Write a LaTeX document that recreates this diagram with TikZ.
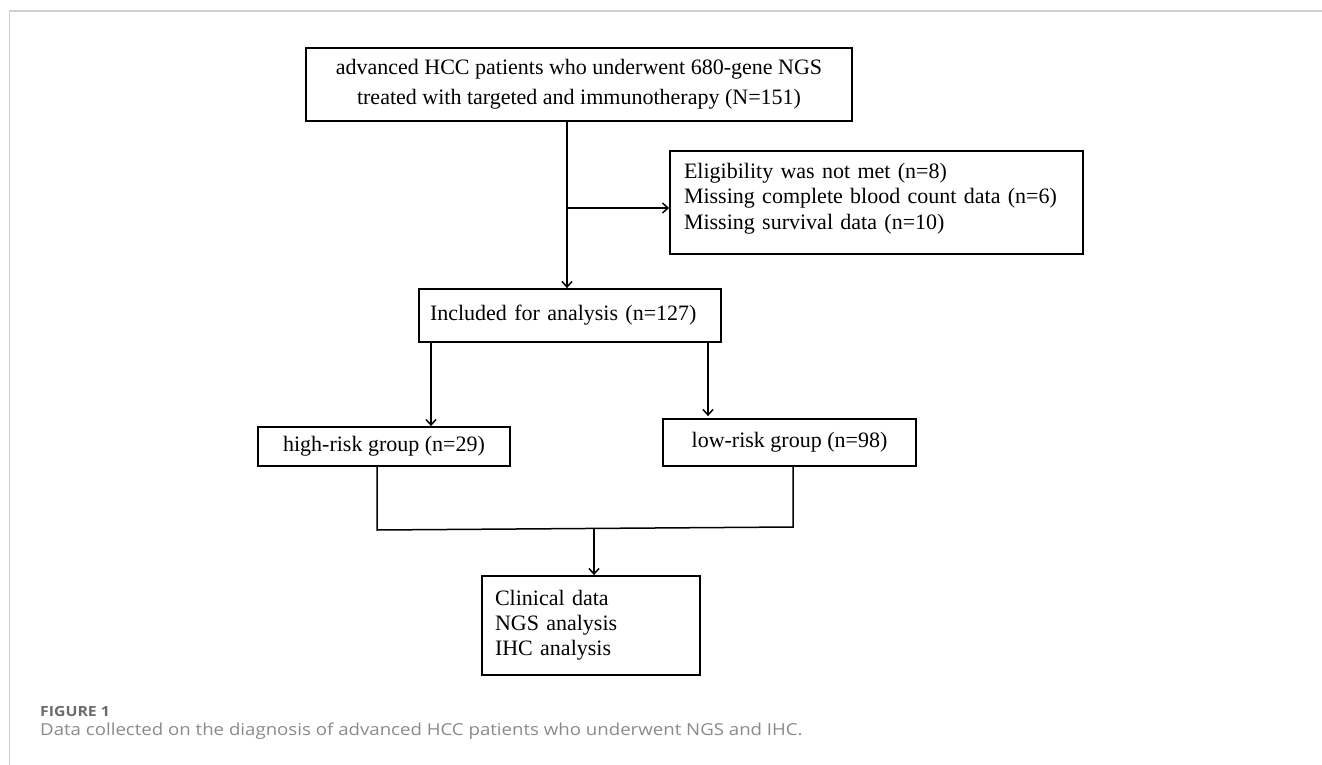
\documentclass[tikz,border=0pt]{standalone}
\usepackage{fontspec}
\setmainfont{Liberation Serif}
\newfontfamily\capfont[FakeStretch=1.13]{Open Sans}
\usetikzlibrary{arrows.meta,calc}
\definecolor{framegray}{HTML}{CFCFCF}
\definecolor{figgray}{HTML}{6A6A6A}
\definecolor{capgray}{HTML}{8A8A8A}
\tikzset{
  box/.style={draw=black, line width=1.8pt, inner sep=0pt, font=\fontsize{22}{25.5}\selectfont},
  conn/.style={line width=1.5pt},
  arr/.style={conn, -{Straight Barb[length=5.5pt,width=10pt,line width=1.5pt]}},
}
\begin{document}
\begin{tikzpicture}[x=1pt,y=-1pt]
\useasboundingbox (0,0) rectangle (1322,765);
% frame
\draw[framegray, line width=1.2pt] (1322,11) -- (9.5,11) -- (9.5,765);

% boxes
\node[box, minimum width=546pt, minimum height=73pt, align=center,
      font=\fontsize{22}{30}\selectfont] (top) at (579,84.5)
  {advanced HCC patients who underwent 680-gene NGS\\treated with targeted and immunotherapy (N=151)};
\node[box, minimum width=413pt, minimum height=103pt, text width=385pt, inner xsep=14pt, align=left] (excl) at (876.5,202.5)
  {Eligibility was not met (n=8)\\Missing complete blood count data (n=6)\\Missing survival data (n=10)\\[-13pt]\mbox{}};
\node[box, minimum width=302pt, minimum height=53pt, text width=280pt, inner xsep=11pt, align=left] (incl) at (570,315.5)
  {Included for analysis (n=127)};
\node[box, minimum width=252pt, minimum height=39pt] (high) at (384,446.5)
  {high-risk group (n=29)};
\node[box, minimum width=253pt, minimum height=47pt] (low) at (789.5,442.5)
  {low-risk group (n=98)};
\node[box, minimum width=218pt, minimum height=99pt, text width=192pt, inner xsep=13pt, align=left,
      font=\fontsize{22}{25}\selectfont] (bot) at (591,625.5)
  {Clinical data\\NGS analysis\\IHC analysis};

% helper coordinates
\coordinate (trunk) at (567,208);
\coordinate (hx) at (431,0);
\coordinate (lx) at (708,0);
\coordinate (jl) at (377,530);
\coordinate (jr) at (793,527);
\coordinate (jm) at (594,529);

% connectors
\draw[arr] (top.south -| trunk) -- (incl.north -| trunk);
\draw[arr] (trunk) -- (trunk -| excl.west);
\draw[arr] (incl.south -| hx) -- (high.north -| hx);
\draw[arr] (incl.south -| lx) -- ([yshift=2pt]low.north -| lx);
\draw[conn] (high.south -| jl) -- (jl) -- (jr) -- (low.south -| jr);
\draw[arr] (jm) -- (bot.north -| jm);

% caption
\node[anchor=base west, inner sep=0pt, text=figgray, font=\capfont\bfseries\fontsize{14}{16}\selectfont] (fig) at (40,716) {FIGURE 1};
\node[anchor=base west, inner sep=0pt, text=capgray, font=\capfont\fontsize{16.5}{18}\selectfont] (cap) at (40,735.5)
  {Data collected on the diagnosis of advanced HCC patients who underwent NGS and IHC.};
\end{tikzpicture}
\end{document}
